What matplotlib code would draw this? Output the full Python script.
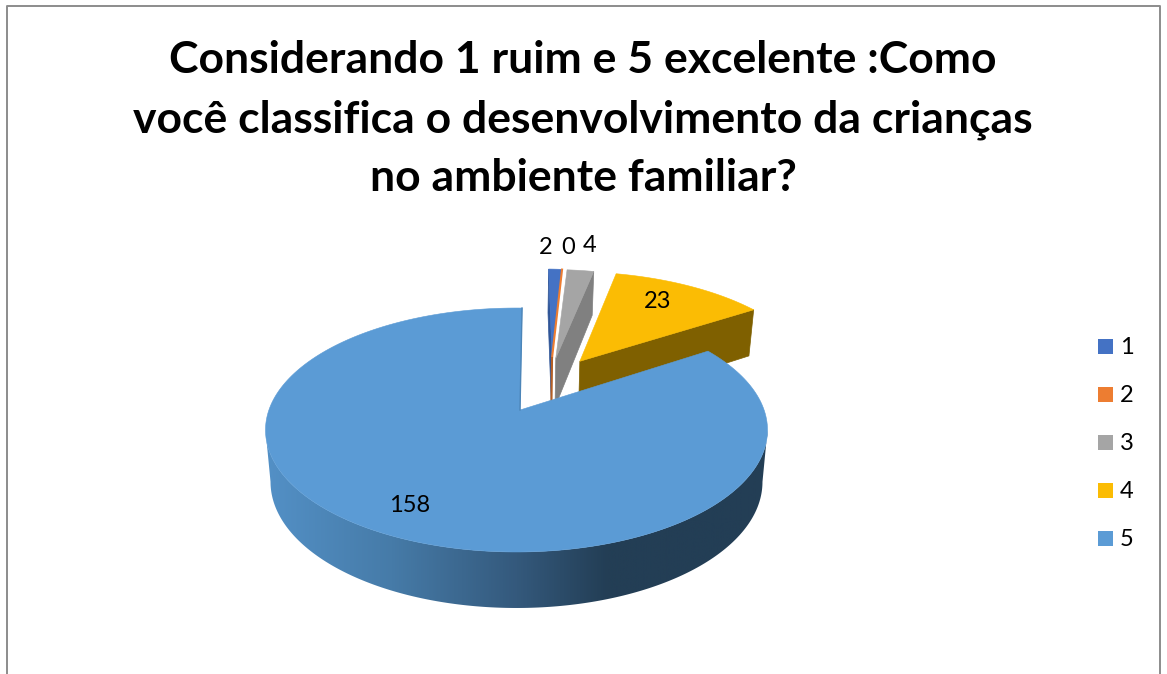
import numpy as np
import matplotlib
matplotlib.use("Agg")
import matplotlib.pyplot as plt
from matplotlib.patches import Polygon, Rectangle
from matplotlib.colors import LinearSegmentedColormap

# Survey answers
title_lines = [
    "Considerando 1 ruim e 5 excelente :Como",
    "você classifica o desenvolvimento da crianças",
    "no ambiente familiar?",
]
categories = ["1", "2", "3", "4", "5"]
values = [2, 0, 4, 23, 158]

# Slice styling
top_colors = ["#4472C4", "#ED7D31", "#A5A5A5", "#FBBC04", "#5B9BD5"]
wall_colors = ["#2F5597", "#B35E24", "#808080", "#7F6000", "#2E5578"]
explode_offsets = [(0.135, 0.475), (0.135, 0.472), (0.16, 0.469), (0.27, 0.44), (0.0, 0.0)]
apex_shifts = [4.5, 4.5, 2.5, 1.0, 3.5]
label_anchor = [(546, 247.5), (568, 247.5), (590, 245.5), (658, 301.5), (410, 505.5)]
START_ANGLE = 1.5

# Tilted-disc projection, in figure pixels
CX, CY = 516.5, 410.0
SX, SY = 247.6, 118.7
PERSP = 0.164


def project(x, y):
    w = 1 + PERSP * np.asarray(y)
    return CX + SX * np.asarray(x) / w, CY - SY * np.asarray(y) / w


def project_floor(x, y):
    px, py = project(x, y)
    return CX + (px - CX) * 0.98, py + 51 - 5 * np.asarray(y)


def disc_point(angle_deg, off):
    a = np.radians(angle_deg)
    return np.sin(a) + off[0], np.cos(a) + off[1]


fig = plt.figure(figsize=(11.67, 6.74), dpi=100)
ax = fig.add_axes([0, 0, 1, 1])
ax.set_xlim(0, 1167)
ax.set_ylim(674, 0)
ax.axis("off")

# Chart frame
ax.plot([7, 7, 1160, 1160], [674, 6, 6, 674], color="#8C8C8C", lw=1.4, zorder=1)

# Title
for line, baseline in zip(title_lines, [73, 132, 191]):
    ax.text(583, baseline, line, ha="center", va="baseline", fontsize=32,
            fontweight="bold", family="Lato", color="black", zorder=10)

# Slice spans, clockwise from the start angle
total = sum(values)
edges = START_ANGLE + np.concatenate([[0], np.cumsum(values)]) / total * 360
spans = list(zip(edges[:-1], edges[1:]))


def radial_wall(angle, off, shift, color, z):
    ox, oy = disc_point(angle, off)
    a = project(*off)
    af = project_floor(*off)
    pts = [(a[0] + shift, a[1]), project(ox, oy), project_floor(ox, oy), (af[0] + shift, af[1])]
    ax.add_patch(Polygon(pts, closed=True, fc=color, ec=color, lw=0.5, zorder=z))


def top_face(span, off, shift, color, z):
    th = np.linspace(span[0], span[1], 240)
    dx, dy = disc_point(th, off)
    px, py = project(dx, dy)
    ap = project(*off)
    pts = np.vstack([[ap[0] + shift, ap[1]], np.column_stack([px, py])])
    ax.add_patch(Polygon(pts, closed=True, fc=color, ec=color, lw=0.4, zorder=z))


# Exploded small slices, back to front
for i in [3, 2, 0]:
    z = {3: 3, 2: 4, 0: 4}[i]
    wall_angle = spans[i][1] if i != 0 else spans[i][0]
    radial_wall(wall_angle, explode_offsets[i], apex_shifts[i], wall_colors[i], z)
    top_face(spans[i], explode_offsets[i], apex_shifts[i], top_colors[i], z + 0.1)

# The zero-valued slice collapses to a single radial edge
ox, oy = disc_point(spans[1][0], explode_offsets[1])
ap = project(*explode_offsets[1])
apf = project_floor(*explode_offsets[1])
p = project(ox, oy)
ax.plot([p[0], ap[0] + apex_shifts[1]], [p[1], ap[1]], color=top_colors[1], lw=1.5, zorder=4.5)
ax.plot([ap[0] + apex_shifts[1], apf[0] + apex_shifts[1]], [ap[1], apf[1]],
        color=wall_colors[1], lw=1.5, zorder=4.5)

# Largest slice: shaded outer wall between the two silhouette points, then the top face
off5 = explode_offsets[4]
sil = np.degrees(np.arccos(-PERSP))
th = np.linspace(max(spans[4][0], sil), min(spans[4][1], 360 - sil), 400)
dx, dy = disc_point(th, off5)
tx, ty = project(dx, dy)
bx, by = project_floor(dx, dy)
wall_pts = np.vstack([np.column_stack([tx, ty]), np.column_stack([bx, by])[::-1]])
wall_clip = Polygon(wall_pts, closed=True, transform=ax.transData, fc="none", ec="none")
ax.add_patch(wall_clip)
shade = LinearSegmentedColormap.from_list(
    "wall",
    [(0.0, "#5390C6"), (0.25, "#467BA8"), (0.5, "#34597C"), (0.68, "#233E55"), (1.0, "#233E55")],
)
grad = ax.imshow(np.linspace(0, 1, 512)[None, :], extent=(266, 768, 620, 420), cmap=shade,
                 aspect="auto", zorder=5, vmin=0, vmax=1)
grad.set_clip_path(wall_clip)
ax.set_xlim(0, 1167)
ax.set_ylim(674, 0)
top_face(spans[4], off5, apex_shifts[4], top_colors[4], 6)

# Thin visible lip along the slice's vertical cut
edge_a = project(*disc_point(spans[4][1], off5))
edge_b = project(*off5)
ax.plot([edge_a[0], edge_b[0] + apex_shifts[4]], [edge_a[1], edge_b[1]],
        color="#4C85B8", lw=1.0, zorder=6.2)

# Data labels
for v, (lx, ly) in zip(values, label_anchor):
    ax.text(lx, ly, str(v), ha="center", va="center", fontsize=17, family="Lato",
            color="black", zorder=9)

# Legend
for i, (name, col) in enumerate(zip(categories, top_colors)):
    yc = 346 + 48 * i
    ax.add_patch(Rectangle((1098, yc - 7.5), 15, 15, fc=col, ec="none", zorder=9))
    ax.text(1120, yc + 1.5, name, ha="left", va="center", fontsize=17, family="Lato",
            color="black", zorder=9)

fig.savefig("out.png", dpi=100)
